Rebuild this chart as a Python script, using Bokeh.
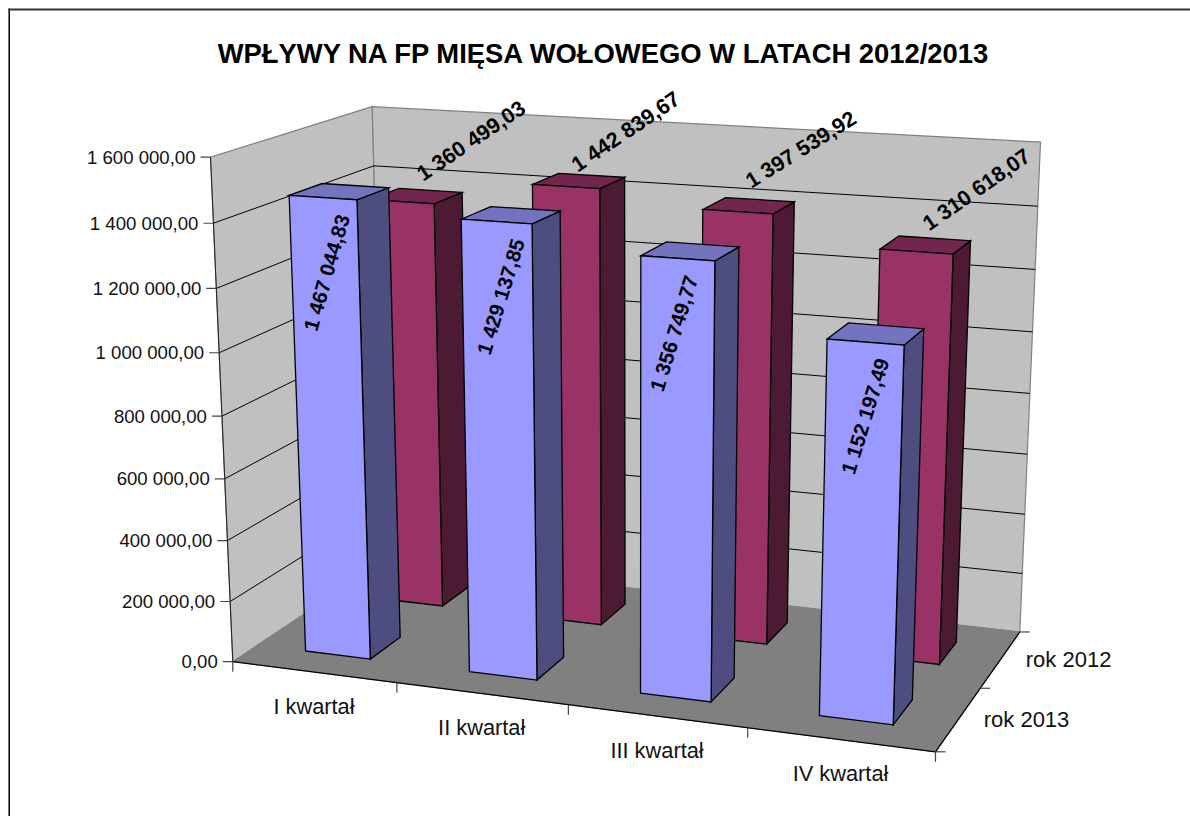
import numpy as np
from bokeh.plotting import figure
from bokeh.models import Range1d
from bokeh.core.properties import value
from bokeh.embed import file_html
from bokeh.resources import INLINE

title = "WPŁYWY NA FP MIĘSA WOŁOWEGO W LATACH 2012/2013"
categories = ["I kwartał", "II kwartał", "III kwartał", "IV kwartał"]
series_names = ["rok 2013", "rok 2012"]
rok_2013 = [1467044.83, 1429137.85, 1356749.77, 1152197.49]
rok_2012 = [1360499.03, 1442839.67, 1397539.92, 1310618.07]
labels_2013 = ["1 467 044,83", "1 429 137,85", "1 356 749,77", "1 152 197,49"]
labels_2012 = ["1 360 499,03", "1 442 839,67", "1 397 539,92", "1 310 618,07"]
y_ticks = [0, 200000, 400000, 600000, 800000, 1000000, 1200000, 1400000, 1600000]
y_tick_labels = ["0,00", "200 000,00", "400 000,00", "600 000,00", "800 000,00",
                 "1 000 000,00", "1 200 000,00", "1 400 000,00", "1 600 000,00"]
YMAX = 1600000

W, H = 1190, 816

# camera: solve a projective map from box corners (x cat, y value, z series) to page pixels
box = [((0, 0, 0), (232.3, 660.7)), ((4, 0, 0), (935, 751.7)), ((0, YMAX, 0), (210, 156.7)),
       ((0, 0, 2), (384, 560.5)), ((4, 0, 2), (1019.3, 631)), ((0, YMAX, 2), (371.7, 106)),
       ((4, YMAX, 2), (1040, 141.7))]
A, b = [], []
for (x, y, z), (u, v) in box:
    y = y / YMAX
    A.append([x, y, z, 1, 0, 0, 0, 0, -u * x, -u * y, -u * z]); b.append(u)
    A.append([0, 0, 0, 0, x, y, z, 1, -v * x, -v * y, -v * z]); b.append(v)
m = np.linalg.lstsq(np.array(A, float), np.array(b, float), rcond=None)[0]
P = np.append(m, 1.0).reshape(3, 4)


def proj(x, y, z):
    h = P @ np.array([x, y / YMAX, z, 1.0])
    return h[0] / h[2], h[1] / h[2]


def poly(pts):
    q = [proj(*t) for t in pts]
    return [a for a, _ in q], [c for _, c in q]


p = figure(width=W, height=H, output_backend="svg", toolbar_location=None,
           x_range=Range1d(0, W), y_range=Range1d(H, 0),
           x_axis_location=None, y_axis_location=None, min_border=0,
           background_fill_color="white", outline_line_color=None)
p.xgrid.visible = False
p.ygrid.visible = False

FONT = value("Liberation Sans")
WALL, FLOOR, EDGE = "#C0C0C0", "#808080", "#808080"


def face(pts, color, line="black", lw=1.3):
    xs, ys = poly(pts)
    p.patch(xs, ys, fill_color=color, line_color=line, line_width=lw, line_join="miter")


def seg(a, b, color="black", lw=1.0):
    xs, ys = poly([a, b])
    p.line(xs, ys, line_color=color, line_width=lw)


# frame of the chart area: only the left and top edges show in the window
p.line([8.7, 8.7], [816, 8], line_color="black", line_width=1.5)
p.line([8, 1190], [9, 9], line_color="#333333", line_width=2)

# walls
face([(0, 0, 0), (0, YMAX, 0), (0, YMAX, 2), (0, 0, 2)], WALL, EDGE, 1.2)
face([(0, 0, 2), (0, YMAX, 2), (4, YMAX, 2), (4, 0, 2)], WALL, EDGE, 1.2)
for t in y_ticks[1:-1]:
    seg((0, t, 0), (0, t, 2))
    seg((0, t, 2), (4, t, 2))
seg((0, 0, 0), (0, YMAX, 0), "#222222")

# floor
face([(0, 0, 0), (4, 0, 0), (4, 0, 2), (0, 0, 2)], FLOOR, FLOOR, 1)
seg((0, 0, 0), (4, 0, 0), "black", 1.3)
seg((4, 0, 0), (4, 0, 2), "black", 1.3)

# tick marks and axis labels
for t, lab in zip(y_ticks, y_tick_labels):
    u, v = proj(0, t, 0)
    p.line([u - 10, u], [v, v], line_color="#444444", line_width=1.2)
    p.text([u - 15], [v], text=[lab], text_font=FONT, text_font_size="18.6px", text_color="#111111",
           text_align="right", text_baseline="middle")
for i in range(5):
    u, v = proj(i, 0, 0)
    p.line([u, u], [v, v + 10], line_color="#444444", line_width=1.2)
for i, lab in enumerate(categories):
    u, v = proj(i + 0.5, 0, 0)
    p.text([u], [v + 34], text=[lab], text_font=FONT, text_font_size="21.8px", text_color="#111111",
           text_align="center", text_baseline="middle")
for k in range(3):
    u, v = proj(4, 0, k)
    p.line([u, u + 10], [v, v], line_color="#444444", line_width=1.2)
for k, lab in enumerate(series_names):
    u, v = proj(4, 0, k + 0.5)
    p.text([u + 68], [v], text=[lab], text_font=FONT, text_font_size="22px", text_color="#111111",
           text_align="center", text_baseline="middle")


# bars
def bar(i, k, val, front, side, top):
    x0, x1 = i + 0.3, i + 0.7
    z0, z1 = k + 0.3, k + 0.7
    face([(x1, 0, z0), (x1, val, z0), (x1, val, z1), (x1, 0, z1)], side)
    face([(x0, val, z0), (x1, val, z0), (x1, val, z1), (x0, val, z1)], top)
    face([(x0, 0, z0), (x1, 0, z0), (x1, val, z0), (x0, val, z0)], front)


for i, val in enumerate(rok_2012):
    bar(i, 1, val, "#993366", "#4D1A33", "#73264D")
for i, val in enumerate(rok_2013):
    bar(i, 0, val, "#9999FF", "#4D4D80", "#7373BF")

# data labels (placed from each bar top, nudged off it in pixels)
nudge_2012 = [(55, -55), (47, -49), (52, -56), (51, -55)]
nudge_2013 = [(3.5, 75), (4, 75), (-4, 75), (-0.5, 74)]
angle_2012 = [34, 34, 32, 35]
angle_2013 = [74, 73, 73, 73]
for i, (val, lab) in enumerate(zip(rok_2012, labels_2012)):
    u, v = proj(i + 0.5, val, 1.5)
    p.text([u + nudge_2012[i][0]], [v + nudge_2012[i][1]], text=[lab], angle=[angle_2012[i]], angle_units="deg",
           text_font=FONT, text_font_style="bold", text_font_size="21.5px", text_color="black",
           text_align="center", text_baseline="middle")
for i, (val, lab) in enumerate(zip(rok_2013, labels_2013)):
    u, v = proj(i + 0.5, val, 0.3)
    p.text([u + nudge_2013[i][0]], [v + nudge_2013[i][1]], text=[lab], angle=[angle_2013[i]], angle_units="deg",
           text_font=FONT, text_font_style="bold", text_font_size="20.5px", text_color="black",
           text_align="center", text_baseline="middle")

p.text([604], [52.5], text=[title], text_font=FONT, text_font_style="bold", text_font_size="27.4px",
       text_color="black", text_align="center", text_baseline="middle")

open("out.html", "w").write(file_html(p, INLINE))
